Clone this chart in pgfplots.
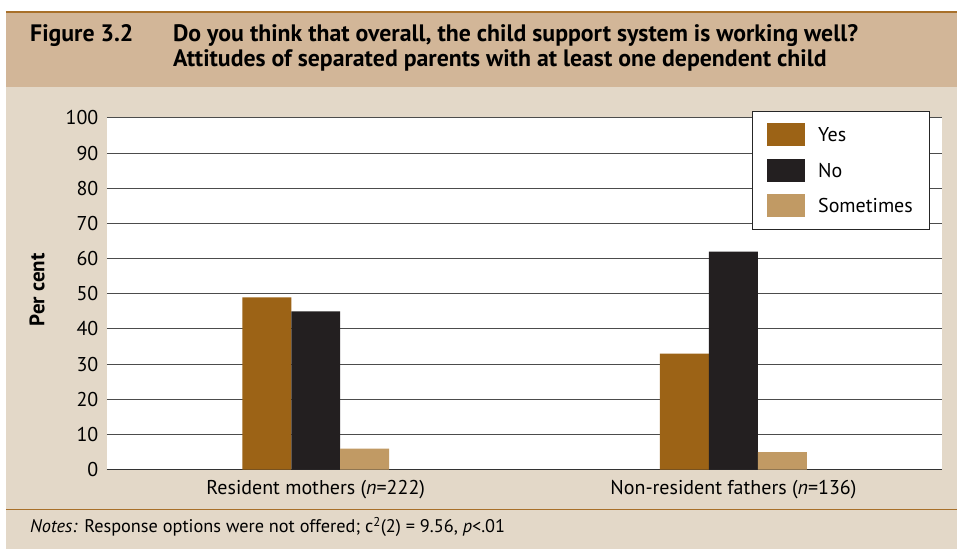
\documentclass[border=0pt]{standalone}
\usepackage{pgfplots}
\pgfplotsset{compat=1.18}
\usepackage{fontspec}
\setmainfont{PT Sans}
\definecolor{yescol}{HTML}{9C6316}
\definecolor{nocol}{HTML}{231F20}
\definecolor{somecol}{HTML}{C19A64}
\definecolor{bandtan}{HTML}{D2B698}
\definecolor{bgbeige}{HTML}{E3D8C8}
\definecolor{brownline}{HTML}{A8702A}
\begin{document}
\begin{tikzpicture}[x=1pt,y=1pt]
\fill[white] (0,0) rectangle (958,549);
\fill[bgbeige] (6,0) rectangle (958,462);
\fill[bandtan] (6,462) rectangle (958,537);
\draw[brownline, line width=1.5pt] (6,537) -- (958,537);
\draw[brownline, line width=1.2pt] (6,39) -- (958,39);
\node[anchor=base west, font=\fontsize{23.8}{28}\selectfont\bfseries, inner sep=0] at (30,507) {Figure 3.2};
\node[anchor=base west, font=\fontsize{23.8}{28}\selectfont\bfseries, inner sep=0] at (173,507) {Do you think that overall, the child support system is working well?};
\node[anchor=base west, font=\fontsize{23.8}{28}\selectfont\bfseries, inner sep=0] at (173,482) {Attitudes of separated parents with at least one dependent child};
\node[anchor=base west, font=\fontsize{18.3}{22}\selectfont, inner sep=0] at (30,16) {\textit{Notes:} Response options were not offered; c\textsuperscript{2}(2) = 9.56, \textit{p}<.01};
\begin{axis}[
  at={(107pt,79pt)}, anchor=south west,
  scale only axis, width=836pt, height=352pt,
  ybar=0pt, bar width=49pt,
  xmin=-0.5, xmax=1.5, ymin=0, ymax=100,
  xtick={0,1},
  xticklabels={Resident mothers (\textit{n}=222), Non-resident fathers (\textit{n}=136)},
  ytick={0,10,...,100},
  major tick length=0pt,
  axis background/.style={fill=white},
  axis x line*=bottom, axis y line*=left,
  y axis line style={draw=none},
  x axis line style={draw=black!80, line width=1.2pt},
  ymajorgrids, grid style={draw=black!70, line width=0.9pt},
  /pgf/number format/assume math mode=true,
  tick label style={font=\fontsize{20}{24}\selectfont},
  yticklabel style={xshift=-5pt},
  xticklabel style={yshift=-7pt},
  ylabel={Per cent},
  ylabel style={font=\fontsize{21}{25}\selectfont\bfseries, at={(axis description cs:-0.0837,0.511)}, anchor=center},
  legend style={at={(0.9856,1.0199)}, anchor=north east, draw=black!85, line width=0.9pt,
    font=\fontsize{20}{24}\selectfont, fill=white, inner xsep=15pt, inner ysep=12pt, row sep=12.5pt,
    /tikz/column sep=11pt, legend cell align=left},
  legend image code/.code={\fill[#1] (0pt,-11pt) rectangle (38pt,12pt);},
]
\addplot[fill=yescol, draw=none] coordinates {(0,49) (1,33)};
\addplot[fill=nocol, draw=none] coordinates {(0,45) (1,62)};
\addplot[fill=somecol, draw=none] coordinates {(0,6) (1,5)};
\legend{Yes, No, Sometimes}
\end{axis}
\end{tikzpicture}
\end{document}
